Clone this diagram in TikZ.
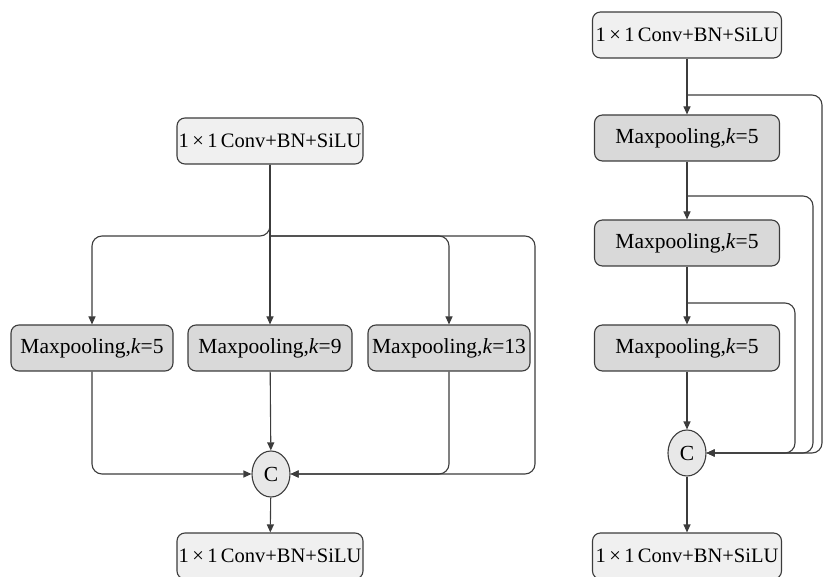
\documentclass[tikz,border=0pt]{standalone}
\usepackage{fontspec}
\setmainfont{LiberationSerif}[Extension=.ttf,UprightFont=*-Regular,ItalicFont=*-Italic,BoldFont=*-Bold,BoldItalicFont=*-BoldItalic]
\usetikzlibrary{arrows.meta,shapes.geometric}

\definecolor{linegray}{HTML}{3C3C3C}
\definecolor{convfill}{HTML}{F0F0F0}
\definecolor{poolfill}{HTML}{D9D9D9}
\definecolor{catfill}{HTML}{E8E8E8}

\begin{document}
\begin{tikzpicture}[x=1pt,y=-1pt,
    font=\fontsize{21.5}{24}\selectfont,
    convbox/.style={draw=linegray,fill=convfill,line width=1.1pt,rounded corners=8pt,
        minimum width=186pt,minimum height=46pt,inner sep=1pt,
        font=\fontsize{20.5}{24}\selectfont},
    poolbox/.style={draw=linegray,fill=poolfill,line width=1.1pt,rounded corners=8pt,
        minimum height=46pt,inner sep=1pt},
    catnode/.style={draw=linegray,fill=catfill,line width=1.1pt,ellipse,
        minimum width=38pt,minimum height=46pt,inner sep=0pt},
    arr/.style={draw=linegray,line width=1.1pt,-{Triangle[length=8pt,width=7pt]}},
    wire/.style={draw=linegray,line width=1.1pt,rounded corners=10pt}
]

\useasboundingbox (0,0) rectangle (825,577);

% Left: parallel pooling
\node[convbox] (ltop) at (270,141) {1\,×\,1\,Conv+BN+SiLU};
\node[poolbox,minimum width=162pt] (lp5) at (92,348) {Maxpooling,\textit{k}=5};
\node[poolbox,minimum width=164pt] (lp9) at (270,348) {Maxpooling,\textit{k}=9};
\node[poolbox,minimum width=162pt] (lp13) at (449,348) {Maxpooling,\textit{k}=13};
\node[catnode] (lc) at (271,474) {C};
\node[convbox] (lbot) at (270,556) {1\,×\,1\,Conv+BN+SiLU};

\coordinate (lsplit) at (270,236);
\coordinate (lloop) at (535,236);

% Left: branches
\draw[arr] (ltop) -- (lp9);
\draw[arr,wire] (ltop.south) -- (lsplit) -| (lp5.north);
\draw[arr,wire] (lsplit) -| (lp13.north);
\draw[arr,wire] (lsplit) -- (lloop) |- (lc.east);

% Left: merge
\draw[arr,wire] (lp5.south) |- (lc.west);
\draw[arr] (lp9) -- (lc);
\draw[arr,wire] (lp13.south) |- (lc.east);
\draw[arr] (lc) -- (lbot);

% Right: serial pooling
\node[convbox,minimum width=189pt] (rtop) at (687,35) {1\,×\,1\,Conv+BN+SiLU};
\node[poolbox,minimum width=185pt] (rp1) at (687,138) {Maxpooling,\textit{k}=5};
\node[poolbox,minimum width=185pt] (rp2) at (687,243) {Maxpooling,\textit{k}=5};
\node[poolbox,minimum width=185pt] (rp3) at (687,348) {Maxpooling,\textit{k}=5};
\node[catnode] (rc) at (687,453) {C};
\node[convbox,minimum width=189pt] (rbot) at (687,556) {1\,×\,1\,Conv+BN+SiLU};

\coordinate (rsplit1) at (687,95);
\coordinate (rsplit2) at (687,196);
\coordinate (rsplit3) at (687,303);

% Right: chain
\draw[arr] (rtop) -- (rp1);
\draw[arr] (rp1) -- (rp2);
\draw[arr] (rp2) -- (rp3);
\draw[arr] (rp3) -- (rc);
\draw[arr] (rc) -- (rbot);

% Right: shortcuts
\draw[arr,wire] (rsplit1) -- (822,95) |- (rc.east);
\draw[arr,wire] (rsplit2) -- (813,196) |- (rc.east);
\draw[arr,wire] (rsplit3) -- (795,303) |- (rc.east);

\end{tikzpicture}
\end{document}
